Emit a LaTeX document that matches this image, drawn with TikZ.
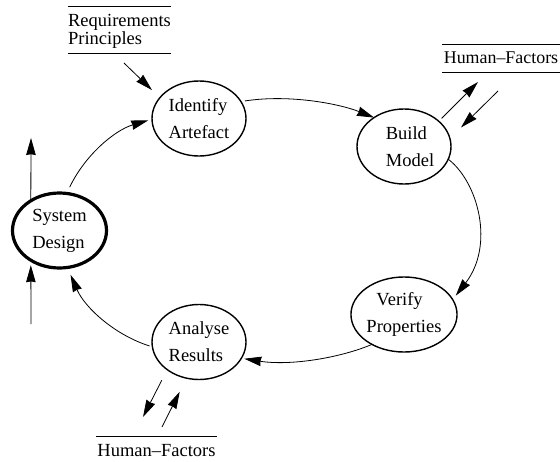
\documentclass[tikz,border=0pt]{standalone}
\usepackage{fontspec}
\setmainfont{Liberation Serif}
\usetikzlibrary{shapes.geometric,arrows.meta}
\tikzset{
  stage/.style={ellipse,draw,line width=1.4pt,minimum width=94pt,minimum height=75pt,inner sep=0pt,outer sep=0pt,align=left,font=\fontsize{18.5}{27}\selectfont},
  mainstage/.style={stage,line width=3.2pt},
  flow/.style={line width=0.8pt,-{Stealth[inset=0.8pt,length=17pt,width=9.5pt]}},
  note/.style={inner sep=0pt,outer sep=0pt,align=left,font=\fontsize{18.5}{18.3}\selectfont},
  rule/.style={line width=0.9pt}
}
\begin{document}
\begin{tikzpicture}[x=1pt,y=-1pt]
\useasboundingbox (0,0) rectangle (560,461);
\node[mainstage] (sys) at (59.5,230.5) {System\\Design};
\node[stage] (identify) at (199,118.5) {Identify\\Artefact};
\node[stage] (build) at (404,146.5) {\hspace{12pt}Build\\\hspace{12pt}Model};
\node[stage] (verify) at (404,314.5) {\hspace{10pt}Verify\\Properties};
\node[stage] (analyse) at (199,342) {Analyse\\Results};
\node[note,minimum width=103pt,minimum height=46.5pt] (req) at (119.5,31) {Requirements\\Principles};
\node[note,minimum width=118pt,minimum height=28pt,font=\fontsize{17.9}{18.3}\selectfont] (hftop) at (501,58) {Human–Factors};
\node[note,minimum width=121pt,minimum height=25pt] (hfbot) at (156.5,450.5) {Human–Factors};
\draw[rule] ([yshift=1.25pt]req.north west) -- ([yshift=1.25pt]req.north east);
\draw[rule] ([yshift=1.25pt]req.south west) -- ([yshift=1.25pt]req.south east);
\draw[rule] (hftop.north west) -- (hftop.north east);
\draw[rule] (hftop.south west) -- (hftop.south east);
\draw[rule] ([yshift=2pt]hfbot.north west) -- ([yshift=2pt]hfbot.north east);
% cycle
\draw[flow,shorten <=7pt,shorten >=4pt] (sys.79) .. controls (85,155) and (115,130) .. (identify.181);
\draw[flow,shorten <=4pt] (identify.22) .. controls (290,94) and (340,104) .. (build.136);
\draw[flow,shorten >=5pt] (build.-16) .. controls (478,182) and (495,245) .. (verify.17.6);
\draw[flow,shorten >=3pt] (verify.223.6) .. controls (340,358) and (290,366) .. (analyse.-21);
\draw[flow,shorten <=3pt,shorten >=8pt] (analyse.186) .. controls (115,335) and (85,308) .. (sys.-78);
% inputs and outputs
\coordinate (sysup) at (31,138);
\coordinate (sysin) at (31,324);
\coordinate (reqout) at (124,63);
\coordinate (buildout) at (478,82);
\coordinate (buildin) at (498,91);
\coordinate (anaout) at (143,417);
\coordinate (anain) at (162,427);
\draw[flow] (sys.134) -- (sysup);
\draw[flow,shorten >=5pt] (sysin) -- (sys.226);
\draw[flow,shorten >=11pt] (reqout) -- (identify.152);
\draw[flow,shorten <=4pt] (build.36) -- (buildout);
\draw[flow,shorten >=15.6pt] (buildin) -- (build.10.5);
\draw[flow,shorten <=11.9pt] (analyse.221) -- (anaout);
\draw[flow,shorten >=15.2pt] (anain) -- (analyse.251);
\end{tikzpicture}
\end{document}
